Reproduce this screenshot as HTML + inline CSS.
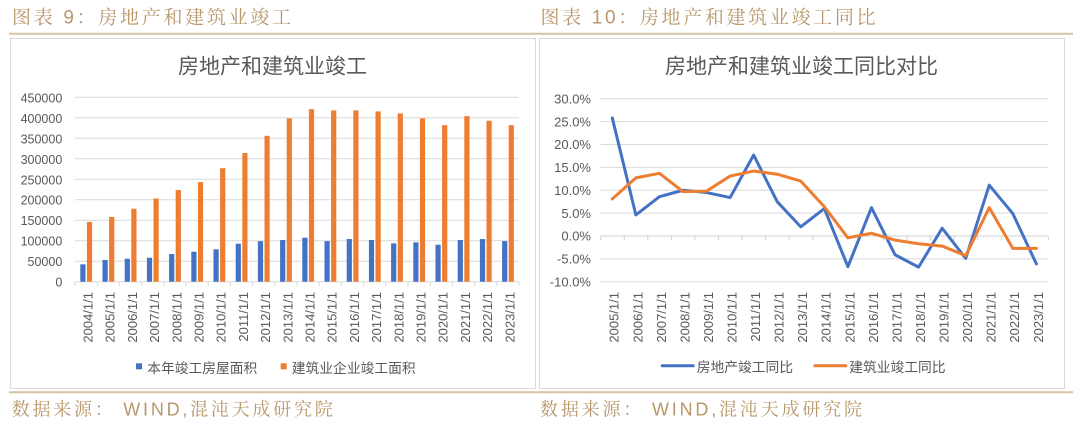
<!DOCTYPE html>
<html>
<head>
<meta charset="utf-8">
<style>
  html,body{margin:0;padding:0;background:#fff;}
  svg{display:block;}
  .hd{font-family:"Liberation Sans","Noto Serif CJK SC",serif;fill:#b8976a;}
  .ax{font-family:"Liberation Sans","Noto Sans CJK SC",sans-serif;fill:#595959;}
</style>
</head>
<body>
<svg width="1080" height="426" viewBox="0 0 1080 426" xmlns="http://www.w3.org/2000/svg">
  <rect width="1080" height="426" fill="#fff"/>

  <!-- headers -->
  <text class="hd" x="12" y="23.5" font-size="19" textLength="279" lengthAdjust="spacing">图表 9：房地产和建筑业竣工</text>
  <text class="hd" x="540.5" y="23.5" font-size="19" textLength="335" lengthAdjust="spacing">图表 10：房地产和建筑业竣工同比</text>
  <line x1="9" y1="33.7" x2="1073" y2="33.7" stroke="#d6c4a2" stroke-width="2"/>

  <!-- panels -->
  <rect x="10.5" y="38.5" width="525" height="350" fill="#fff" stroke="#d9d9d9" stroke-width="1"/>
  <rect x="539.5" y="38.5" width="525" height="350" fill="#fff" stroke="#d9d9d9" stroke-width="1"/>

  <!-- footer -->
  <line x1="9" y1="392.3" x2="1073" y2="392.3" stroke="#d6c4a2" stroke-width="2"/>
  <text class="hd" x="11.7" y="415.5" font-size="18" textLength="321" lengthAdjust="spacing">数据来源： WIND,混沌天成研究院</text>
  <text class="hd" x="540" y="415.5" font-size="18" textLength="322" lengthAdjust="spacing">数据来源： WIND,混沌天成研究院</text>

  <!-- ================= LEFT CHART ================= -->
  <text class="ax" x="272.5" y="73.5" font-size="21" text-anchor="middle">房地产和建筑业竣工</text>

  <g stroke="#d9d9d9" stroke-width="1">
    <line x1="75" y1="97.29" x2="519" y2="97.29"/>
    <line x1="75" y1="117.78" x2="519" y2="117.78"/>
    <line x1="75" y1="138.27" x2="519" y2="138.27"/>
    <line x1="75" y1="158.76" x2="519" y2="158.76"/>
    <line x1="75" y1="179.25" x2="519" y2="179.25"/>
    <line x1="75" y1="199.74" x2="519" y2="199.74"/>
    <line x1="75" y1="220.23" x2="519" y2="220.23"/>
    <line x1="75" y1="240.72" x2="519" y2="240.72"/>
    <line x1="75" y1="261.21" x2="519" y2="261.21"/>
    <line x1="75" y1="281.7" x2="519" y2="281.7"/>
    <path d="M75 281.7V286M97.2 281.7V286M119.4 281.7V286M141.6 281.7V286M163.8 281.7V286M186 281.7V286M208.2 281.7V286M230.4 281.7V286M252.6 281.7V286M274.8 281.7V286M297 281.7V286M319.2 281.7V286M341.4 281.7V286M363.6 281.7V286M385.8 281.7V286M408 281.7V286M430.2 281.7V286M452.4 281.7V286M474.6 281.7V286M496.8 281.7V286M519 281.7V286" fill="none"/>
  </g>

  <g class="ax" font-size="12.5" text-anchor="end">
    <text x="62.3" y="102.3">450000</text>
    <text x="62.3" y="122.8">400000</text>
    <text x="62.3" y="143.3">350000</text>
    <text x="62.3" y="163.8">300000</text>
    <text x="62.3" y="184.3">250000</text>
    <text x="62.3" y="204.7">200000</text>
    <text x="62.3" y="225.2">150000</text>
    <text x="62.3" y="245.7">100000</text>
    <text x="62.3" y="266.2">50000</text>
    <text x="62.3" y="286.7">0</text>
  </g>

  <!-- blue bars -->
  <g fill="#4472c4">
    <rect x="80.3" y="264.32" width="5.2" height="17.38"/>
    <rect x="102.5" y="259.98" width="5.2" height="21.72"/>
    <rect x="124.7" y="258.75" width="5.2" height="22.95"/>
    <rect x="146.9" y="257.73" width="5.2" height="23.97"/>
    <rect x="169.1" y="254.04" width="5.2" height="27.66"/>
    <rect x="191.3" y="251.70" width="5.2" height="30.00"/>
    <rect x="213.5" y="249.33" width="5.2" height="32.37"/>
    <rect x="235.7" y="243.71" width="5.2" height="37.99"/>
    <rect x="257.9" y="241.13" width="5.2" height="40.57"/>
    <rect x="280.1" y="240.02" width="5.2" height="41.68"/>
    <rect x="302.3" y="237.73" width="5.2" height="43.97"/>
    <rect x="324.5" y="241.13" width="5.2" height="40.57"/>
    <rect x="346.7" y="239.04" width="5.2" height="42.66"/>
    <rect x="368.9" y="240.02" width="5.2" height="41.68"/>
    <rect x="391.1" y="243.34" width="5.2" height="38.36"/>
    <rect x="413.3" y="242.36" width="5.2" height="39.34"/>
    <rect x="435.5" y="244.74" width="5.2" height="36.96"/>
    <rect x="457.7" y="240.02" width="5.2" height="41.68"/>
    <rect x="479.9" y="239.08" width="5.2" height="42.62"/>
    <rect x="502.1" y="241.13" width="5.2" height="40.57"/>
  </g>
  <!-- orange bars -->
  <g fill="#ed7d31">
    <rect x="86.9" y="221.87" width="5.2" height="59.83"/>
    <rect x="109.1" y="216.95" width="5.2" height="64.75"/>
    <rect x="131.3" y="208.76" width="5.2" height="72.94"/>
    <rect x="153.5" y="198.51" width="5.2" height="83.19"/>
    <rect x="175.7" y="190.07" width="5.2" height="91.63"/>
    <rect x="197.9" y="182.12" width="5.2" height="99.58"/>
    <rect x="220.1" y="168.19" width="5.2" height="113.51"/>
    <rect x="242.3" y="153.02" width="5.2" height="128.68"/>
    <rect x="264.5" y="135.81" width="5.2" height="145.89"/>
    <rect x="286.7" y="118.39" width="5.2" height="163.31"/>
    <rect x="308.9" y="109.17" width="5.2" height="172.53"/>
    <rect x="331.1" y="110.40" width="5.2" height="171.30"/>
    <rect x="353.3" y="110.40" width="5.2" height="171.30"/>
    <rect x="375.5" y="111.39" width="5.2" height="170.31"/>
    <rect x="397.7" y="113.40" width="5.2" height="168.30"/>
    <rect x="419.9" y="118.39" width="5.2" height="163.31"/>
    <rect x="442.1" y="125.16" width="5.2" height="156.54"/>
    <rect x="464.3" y="116.14" width="5.2" height="165.56"/>
    <rect x="486.5" y="120.77" width="5.2" height="160.93"/>
    <rect x="508.7" y="125.16" width="5.2" height="156.54"/>
  </g>

  <!-- left x labels -->
  <g class="ax" font-size="13" text-anchor="end">
    <text transform="translate(92.5,292) rotate(-90)">2004/1/1</text>
    <text transform="translate(114.7,292) rotate(-90)">2005/1/1</text>
    <text transform="translate(136.9,292) rotate(-90)">2006/1/1</text>
    <text transform="translate(159.1,292) rotate(-90)">2007/1/1</text>
    <text transform="translate(181.3,292) rotate(-90)">2008/1/1</text>
    <text transform="translate(203.5,292) rotate(-90)">2009/1/1</text>
    <text transform="translate(225.7,292) rotate(-90)">2010/1/1</text>
    <text transform="translate(247.9,292) rotate(-90)">2011/1/1</text>
    <text transform="translate(270.1,292) rotate(-90)">2012/1/1</text>
    <text transform="translate(292.3,292) rotate(-90)">2013/1/1</text>
    <text transform="translate(314.5,292) rotate(-90)">2014/1/1</text>
    <text transform="translate(336.7,292) rotate(-90)">2015/1/1</text>
    <text transform="translate(358.9,292) rotate(-90)">2016/1/1</text>
    <text transform="translate(381.1,292) rotate(-90)">2017/1/1</text>
    <text transform="translate(403.3,292) rotate(-90)">2018/1/1</text>
    <text transform="translate(425.5,292) rotate(-90)">2019/1/1</text>
    <text transform="translate(447.7,292) rotate(-90)">2020/1/1</text>
    <text transform="translate(469.9,292) rotate(-90)">2021/1/1</text>
    <text transform="translate(492.1,292) rotate(-90)">2022/1/1</text>
    <text transform="translate(514.3,292) rotate(-90)">2023/1/1</text>
  </g>

  <!-- left legend -->
  <rect x="136" y="363.3" width="6" height="6" fill="#4472c4"/>
  <text class="ax" x="147.3" y="373" font-size="13.75" textLength="110" lengthAdjust="spacing">本年竣工房屋面积</text>
  <rect x="280.7" y="363.3" width="6" height="6" fill="#ed7d31"/>
  <text class="ax" x="291.7" y="373" font-size="13.75" textLength="124" lengthAdjust="spacing">建筑业企业竣工面积</text>

  <!-- ================= RIGHT CHART ================= -->
  <text class="ax" x="801.5" y="73.5" font-size="21" text-anchor="middle">房地产和建筑业竣工同比对比</text>

  <g stroke="#d9d9d9" stroke-width="1">
    <line x1="600.7" y1="98.75" x2="1048.3" y2="98.75"/>
    <line x1="600.7" y1="121.63" x2="1048.3" y2="121.63"/>
    <line x1="600.7" y1="144.5" x2="1048.3" y2="144.5"/>
    <line x1="600.7" y1="167.38" x2="1048.3" y2="167.38"/>
    <line x1="600.7" y1="190.25" x2="1048.3" y2="190.25"/>
    <line x1="600.7" y1="213.13" x2="1048.3" y2="213.13"/>
    <line x1="600.7" y1="258.88" x2="1048.3" y2="258.88"/>
    <line x1="600.7" y1="281.75" x2="1048.3" y2="281.75"/>
  </g>
  <g stroke="#d0d0d0" stroke-width="1" fill="none">
    <line x1="600.7" y1="236" x2="1048.3" y2="236"/>
    <path d="M600.7 236V240.5M624.26 236V240.5M647.82 236V240.5M671.38 236V240.5M694.94 236V240.5M718.5 236V240.5M742.06 236V240.5M765.62 236V240.5M789.18 236V240.5M812.74 236V240.5M836.3 236V240.5M859.86 236V240.5M883.42 236V240.5M906.98 236V240.5M930.54 236V240.5M954.1 236V240.5M977.66 236V240.5M1001.22 236V240.5M1024.78 236V240.5M1048.34 236V240.5"/>
  </g>

  <g class="ax" font-size="13" text-anchor="end">
    <text x="591" y="103.45">30.0%</text>
    <text x="591" y="126.33">25.0%</text>
    <text x="591" y="149.2">20.0%</text>
    <text x="591" y="172.08">15.0%</text>
    <text x="591" y="194.95">10.0%</text>
    <text x="591" y="217.83">5.0%</text>
    <text x="591" y="240.7">0.0%</text>
    <text x="591" y="263.58">-5.0%</text>
    <text x="591" y="286.45">-10.0%</text>
  </g>

  <!-- lines -->
  <polyline fill="none" stroke="#4472c4" stroke-width="3" stroke-linejoin="round" stroke-linecap="round"
    points="612.3,117.96 635.86,214.95 659.42,196.66 682.98,190.25 706.54,192.54 730.1,197.57 753.66,155.02 777.22,201.69 800.78,226.85 824.34,208.55 847.9,266.65 871.46,207.64 895.02,254.76 918.58,267.11 942.14,228.22 965.7,258.42 989.26,185.22 1012.82,213.58 1036.38,263.91"/>
  <polyline fill="none" stroke="#ed7d31" stroke-width="3" stroke-linejoin="round" stroke-linecap="round"
    points="612.3,198.94 635.86,177.9 659.42,173.32 682.98,191.62 706.54,191.17 730.1,176.07 753.66,171.04 777.22,174.24 800.78,181.1 824.34,206.72 847.9,237.83 871.46,233.26 895.02,240.12 918.58,243.78 942.14,246.07 965.7,255.67 989.26,207.64 1012.82,248.35 1036.38,248.35"/>

  <!-- right x labels -->
  <g class="ax" font-size="13" text-anchor="end">
    <text transform="translate(618.7,292) rotate(-90)">2005/1/1</text>
    <text transform="translate(642.26,292) rotate(-90)">2006/1/1</text>
    <text transform="translate(665.82,292) rotate(-90)">2007/1/1</text>
    <text transform="translate(689.38,292) rotate(-90)">2008/1/1</text>
    <text transform="translate(712.94,292) rotate(-90)">2009/1/1</text>
    <text transform="translate(736.5,292) rotate(-90)">2010/1/1</text>
    <text transform="translate(760.06,292) rotate(-90)">2011/1/1</text>
    <text transform="translate(783.62,292) rotate(-90)">2012/1/1</text>
    <text transform="translate(807.18,292) rotate(-90)">2013/1/1</text>
    <text transform="translate(830.74,292) rotate(-90)">2014/1/1</text>
    <text transform="translate(854.3,292) rotate(-90)">2015/1/1</text>
    <text transform="translate(877.86,292) rotate(-90)">2016/1/1</text>
    <text transform="translate(901.42,292) rotate(-90)">2017/1/1</text>
    <text transform="translate(924.98,292) rotate(-90)">2018/1/1</text>
    <text transform="translate(948.54,292) rotate(-90)">2019/1/1</text>
    <text transform="translate(972.1,292) rotate(-90)">2020/1/1</text>
    <text transform="translate(995.66,292) rotate(-90)">2021/1/1</text>
    <text transform="translate(1019.22,292) rotate(-90)">2022/1/1</text>
    <text transform="translate(1042.78,292) rotate(-90)">2023/1/1</text>
  </g>

  <!-- right legend -->
  <line x1="662.2" y1="365.7" x2="693.2" y2="365.7" stroke="#4472c4" stroke-width="3" stroke-linecap="round"/>
  <text class="ax" x="696.7" y="372" font-size="13.8" textLength="96.4" lengthAdjust="spacing">房地产竣工同比</text>
  <line x1="814.8" y1="365.7" x2="845.8" y2="365.7" stroke="#ed7d31" stroke-width="3" stroke-linecap="round"/>
  <text class="ax" x="849.2" y="372" font-size="13.8" textLength="96.4" lengthAdjust="spacing">建筑业竣工同比</text>
</svg>
</body>
</html>
